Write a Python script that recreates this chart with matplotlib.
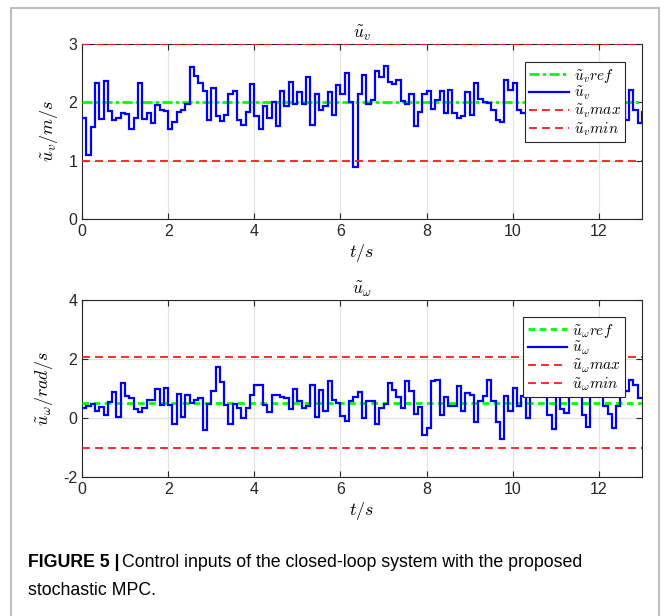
import numpy as np
import matplotlib
matplotlib.use("Agg")
import matplotlib.pyplot as plt
from matplotlib.patches import Rectangle

plt.rcParams['mathtext.fontset'] = 'cm'
plt.rcParams['font.family'] = ['Liberation Sans', 'DejaVu Sans']
plt.rcParams['axes.unicode_minus'] = False

# sample time of the controller and horizon
dt = 0.1
t_end = 13

# linear velocity input (one value per step, t = 0 .. 13.0)
uv = [1.73, 1.09, 1.58, 2.34, 1.71, 2.37, 1.85, 1.70, 1.74, 1.82,
      1.80, 1.54, 1.74, 2.34, 1.71, 1.81, 1.64, 1.95, 1.87, 1.85,
      1.55, 1.67, 1.84, 1.87, 1.97, 2.61, 2.46, 2.33, 2.19, 1.69,
      2.25, 1.77, 1.68, 1.78,
      2.15, 2.20, 1.69, 1.61, 1.83, 2.31, 1.77, 1.54, 1.94, 1.74,
      2.00, 1.59, 2.20, 1.94, 2.35, 1.97, 2.18, 1.97, 2.43, 1.61,
      2.15, 1.87, 1.93, 2.17, 1.78, 2.29, 2.15, 2.50, 2.01, 0.89,
      2.15, 2.47, 1.98,
      2.04, 2.53, 2.43, 2.63, 2.35, 2.31, 2.39, 2.02, 1.97, 2.15,
      1.59, 1.84, 2.15, 2.20, 1.89, 2.04, 2.20, 1.82, 2.22, 1.81,
      1.74, 1.77, 2.18, 1.79, 2.33, 2.05, 2.01, 1.99, 1.87, 1.70,
      1.67, 2.38, 2.21,
      2.33, 1.87, 1.82, 1.85,
      1.95, 2.10, 1.80, 2.05, 1.90, 2.20, 1.85, 2.00, 1.75, 2.15,
      1.95, 2.05, 1.80, 2.10, 1.90, 2.00, 2.20, 1.85, 1.95, 2.10,
      1.80, 2.00,
      1.70, 2.21, 1.87, 1.64, 1.84]
uv_ref, uv_max, uv_min = 2.0, 3.0, 1.0

# angular velocity input
uw = [0.34, 0.40, 0.47, 0.23, 0.36, 0.11, 0.53, 0.87, 0.02, 1.19,
      0.73, 0.68, 0.31, 0.20, 0.34, 0.62, 0.62, 0.98, 0.45, 1.02,
      0.45, -0.20, 0.82, 0.05, 0.77, 0.51, 0.62, 0.68, -0.40, 0.47,
      0.90, 1.72, 1.22, 0.45,
      -0.20, 0.49, 0.34, 0.00, 0.34, 0.79, 1.13, 1.13, 0.45, 0.20,
      0.79, 0.77, 0.72, 0.68, 0.32, 0.99, 0.59, 0.34, 0.40, 1.13,
      0.05, 0.96, 0.23, 1.24, 0.62, 0.51, 0.06, -0.11, 0.56, 0.70,
      0.88, 0.00, 0.56,
      0.56, -0.20, 0.34, 0.47, 1.19, 0.96, 0.70, 0.34, 1.27, 0.93,
      0.14, 0.36, -0.56, -0.34, 1.24, 1.30, 0.11, 0.70, 0.42, 0.40,
      1.07, 0.23, 0.85, 0.79, -0.14, 0.56, 0.73, 1.30, 0.56, -0.15,
      -0.71, 0.73, 0.23,
      1.02, 0.40, 0.73, 0.00,
      0.90, 0.80, 1.00, 0.75, 0.10, -0.36, 0.80, 0.30, 0.17, 0.90,
      0.75, 1.00, 0.11, -0.32, 0.80, 0.90, 0.75, 0.40, 0.14, -0.34,
      0.40, 0.80, 0.90,
      1.30, 1.13, 0.68, 0.68]
uw_ref, uw_max, uw_min = 0.5, 2.07, -1.02

xticks = [0, 2, 4, 6, 8, 10, 12]

W, H = 667, 616
fig = plt.figure(figsize=(W / 100, H / 100), dpi=100)

# light frame round the whole figure panel
fig.add_artist(Rectangle((11 / W, -0.02), (659 - 11) / W, 1.02 - 8 / H,
                         transform=fig.transFigure, fill=False,
                         edgecolor='#b0b0b0', linewidth=1.2))

ax1 = fig.add_axes([82 / W, 1 - 219 / H, 560 / W, 175 / H])
ax2 = fig.add_axes([82 / W, 1 - 477 / H, 560 / W, 177 / H])


def draw(ax, u, ref, umax, umin, sym, ylab, yticks, ylim, ref_dash, leg_box):
    edges = np.arange(len(u) + 1) * dt
    ax.axhline(ref, color=(0, 1, 0), lw=2, dashes=ref_dash,
               label=r'$\tilde{u}_%s ref$' % sym, zorder=3)
    ax.stairs(u, edges, baseline=None, color=(0, 0, 1), lw=1.6,
              label=r'$\tilde{u}_%s$' % sym, zorder=4)
    ax.axhline(umax, color=(1, 0.1, 0.1), lw=1.3, dashes=(4.4, 2.8),
               label=r'$\tilde{u}_%s max$' % sym, zorder=5)
    ax.axhline(umin, color=(1, 0.1, 0.1), lw=1.3, dashes=(4.4, 2.8),
               label=r'$\tilde{u}_%s min$' % sym, zorder=5)
    ax.set_xlim(0, t_end)
    ax.set_ylim(*ylim)
    ax.set_xticks(xticks)
    ax.set_yticks(yticks)
    ax.grid(True, color='#e3e3e3', lw=0.9)
    ax.set_axisbelow(True)
    ax.tick_params(direction='in', top=True, right=True, labelsize=11.5,
                   colors='#262626', length=4, width=0.8)
    for s in ax.spines.values():
        s.set_color('#262626')
        s.set_linewidth(0.8)
    ax.set_title(r'$\tilde{u}_%s$' % sym, fontsize=12.5, pad=4)
    ax.set_xlabel(r'$t/s$', fontsize=13, labelpad=2)
    ax.set_ylabel(ylab, fontsize=13, labelpad=6)
    leg = ax.legend(loc='upper right', bbox_to_anchor=leg_box, fontsize=11,
                    fancybox=False, framealpha=1, edgecolor='#262626',
                    handlelength=2.6, labelspacing=0.02, borderpad=0.3,
                    handletextpad=0.3, borderaxespad=0)
    leg.get_frame().set_linewidth(0.8)
    leg.set_zorder(10)


draw(ax1, uv, uv_ref, uv_max, uv_min, 'v', r'$\tilde{u}_v/m/s$',
     [0, 1, 2, 3], (0, 3), (3.6, 1.2, 1.2, 1.2), (0.970, 0.897))
draw(ax2, uw, uw_ref, uw_max, uw_min, r'\omega', r'$\tilde{u}_\omega/rad/s$',
     [-2, 0, 2, 4], (-2, 4), (2.4, 1.6), (0.970, 0.904))

# caption
cap_font = ['Liberation Sans Narrow', 'Liberation Sans', 'DejaVu Sans']
cap_size = 12.8
t1 = fig.text(28 / W, 1 - 567 / H, 'FIGURE 5 |', fontsize=cap_size,
              fontweight='bold', family=cap_font, va='baseline')
fig.canvas.draw()
bb = t1.get_window_extent()
fig.text((bb.x1 + 3) / W, 1 - 567 / H,
         'Control inputs of the closed-loop system with the proposed',
         fontsize=cap_size, family=cap_font, va='baseline')
fig.text(28 / W, 1 - 595 / H, 'stochastic MPC.', fontsize=cap_size,
         family=cap_font, va='baseline')

fig.savefig('out.png', dpi=100)
